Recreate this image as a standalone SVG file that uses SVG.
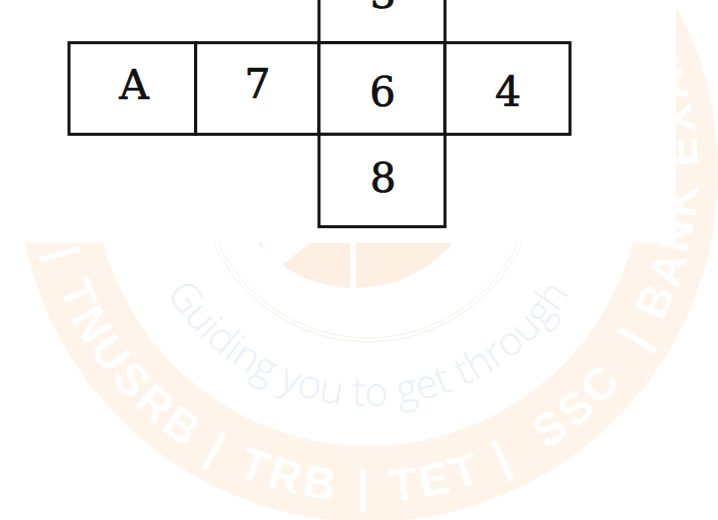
<svg xmlns="http://www.w3.org/2000/svg" xmlns:xlink="http://www.w3.org/1999/xlink" width="718" height="520" viewBox="0 0 718 520">
  <defs>
    <style>
      .ring { fill: #fef4e9; fill-rule: evenodd; }
      .logo { fill: #fdf0e2; }
      .faint { fill: none; stroke: #f5f0eb; stroke-width: 1; }
      .wm { fill: #ffffff; font-family: "Liberation Sans", Arial, sans-serif; font-weight: bold; font-size: 45px; letter-spacing: 4px; }
      .tag { fill: #e9f0f8; font-family: "Open Sans", "DejaVu Sans", sans-serif; font-weight: 300; font-size: 40px; }
      .face rect { fill: #ffffff; stroke: #111111; stroke-width: 3; }
      .face text { fill: #111111; stroke: #111111; stroke-width: 0.7; font-family: "DejaVu Serif", "Liberation Serif", serif; font-size: 41px; text-anchor: middle; }
    </style>
    <path id="ringPath" d="M 38,172 A 330 330 0 0 0 698,172 A 330 330 0 0 0 533,-113.8"/>
    <path id="tagPath" d="M 132,170 A 236 236 0 0 0 604,170"/>
    <clipPath id="belowRect"><rect x="0" y="243" width="718" height="277"/></clipPath>
  </defs>

  <rect x="0" y="0" width="718" height="520" fill="#ffffff"/>

  <!-- watermark -->
  <g id="watermark">
    <path class="ring" d="M 18,172 a350,350 0 1,0 700,0 a350,350 0 1,0 -700,0 Z M 94,172 a274,274 0 1,0 548,0 a274,274 0 1,0 -548,0 Z"/>
    <g clip-path="url(#belowRect)">
      <path class="logo" d="M 226,159 A 129 129 0 0 0 350,287.9 L 350,159 Z"/>
      <path class="logo" d="M 356,159 L 356,288 A 129 129 0 0 0 484,159 Z"/>
      <polygon points="262,243 310,243 267,277" fill="#ffffff"/>
    </g>
    <circle class="faint" cx="368" cy="172" r="166"/>
    <circle class="faint" cx="368" cy="172" r="170"/>
    <text class="wm"><textPath xlink:href="#ringPath" startOffset="88" text-anchor="middle">|</textPath></text>
    <text class="wm"><textPath xlink:href="#ringPath" startOffset="224" text-anchor="middle">TNUSRB</textPath></text>
    <text class="wm"><textPath xlink:href="#ringPath" startOffset="354" text-anchor="middle">|</textPath></text>
    <text class="wm"><textPath xlink:href="#ringPath" startOffset="435" text-anchor="middle">TRB</textPath></text>
    <text class="wm"><textPath xlink:href="#ringPath" startOffset="515" text-anchor="middle">|</textPath></text>
    <text class="wm"><textPath xlink:href="#ringPath" startOffset="590" text-anchor="middle">TET</textPath></text>
    <text class="wm"><textPath xlink:href="#ringPath" startOffset="664" text-anchor="middle">|</textPath></text>
    <text class="wm"><textPath xlink:href="#ringPath" startOffset="759" text-anchor="middle">SSC</textPath></text>
    <text class="wm"><textPath xlink:href="#ringPath" startOffset="854" text-anchor="middle">|</textPath></text>
    <text class="wm"><textPath xlink:href="#ringPath" startOffset="880">BANK EXAMS</textPath></text>
    <text class="tag"><textPath xlink:href="#tagPath" startOffset="50%" text-anchor="middle">Guiding you to get through</textPath></text>
  </g>

  <!-- white background of the figure -->
  <rect x="0" y="0" width="676" height="243" fill="#ffffff"/>

  <g id="connectors"/>

  <g id="face-top" class="face">
    <rect x="319" y="-50" width="126" height="92.7"/>
    <text x="383" y="8">3</text>
  </g>
  <g id="face-A" class="face">
    <rect x="69" y="42.7" width="126.7" height="91.6"/>
    <text x="134" y="99">A</text>
  </g>
  <g id="face-7" class="face">
    <rect x="195.7" y="42.7" width="123.3" height="91.6"/>
    <text x="257.5" y="97.5">7</text>
  </g>
  <g id="face-6" class="face">
    <rect x="319" y="42.7" width="126" height="91.6"/>
    <text x="382.5" y="106">6</text>
  </g>
  <g id="face-4" class="face">
    <rect x="445" y="42.7" width="125" height="91.6"/>
    <text x="508" y="106">4</text>
  </g>
  <g id="face-8" class="face">
    <rect x="319" y="134.3" width="126" height="92.4"/>
    <text x="383" y="192">8</text>
  </g>
</svg>
